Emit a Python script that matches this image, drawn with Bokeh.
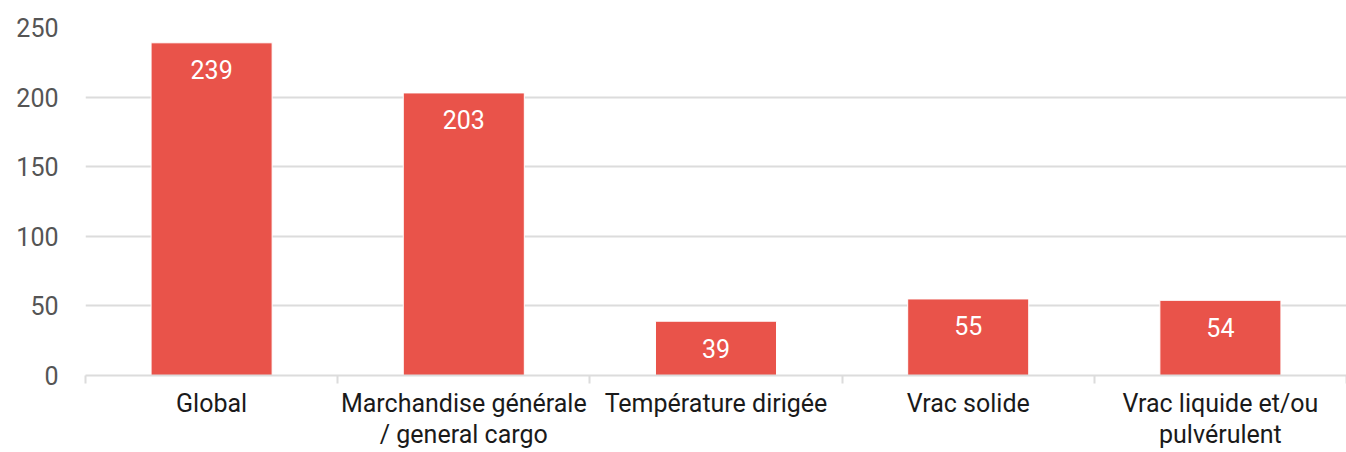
from bokeh.plotting import figure
from bokeh.models import ColumnDataSource, Range1d, FixedTicker
from bokeh.core.properties import value
from bokeh.embed import file_html
from bokeh.resources import INLINE

categories = ["Global", "Marchandise générale\n/ general cargo", "Température dirigée",
              "Vrac solide", "Vrac liquide et/ou\npulvérulent"]
values = [239, 203, 39, 55, 54]
y_ticks = [0, 50, 100, 150, 200, 250]

FONT = "Roboto"
BAR = "#E9534A"
GRID = "#dcdcdc"

n = len(categories)
xs = [i + 0.5 for i in range(n)]
src = ColumnDataSource(dict(x=xs, v=values, lab=[str(v) for v in values]))

p = figure(width=1346, height=452, output_backend="svg", toolbar_location=None,
           x_range=Range1d(0, n), y_range=Range1d(0, 250),
           min_border_left=85, min_border_top=27, min_border_right=0, min_border_bottom=77)
p.outline_line_color = None
p.xgrid.grid_line_color = None
p.ygrid.grid_line_color = GRID
p.ygrid.grid_line_width = 2
p.ygrid.ticker = FixedTicker(ticks=y_ticks)

p.vbar(x="x", top="v", width=0.48, source=src, fill_color=BAR,
       line_color="white", line_width=1)

p.text(x="x", y="v", text="lab", source=src, text_color="white",
       text_font=value(FONT), text_font_size="25px", text_align="center",
       text_baseline="middle", y_offset=27)

# x axis
p.xaxis.ticker = FixedTicker(ticks=xs, minor_ticks=list(range(n + 1)))
p.xaxis.major_label_overrides = {x: c for x, c in zip(xs, categories)}
p.xaxis.major_tick_line_color = None
p.xaxis.major_tick_out = 0
p.xaxis.major_tick_in = 0
p.xaxis.minor_tick_line_color = GRID
p.xaxis.minor_tick_line_width = 2
p.xaxis.minor_tick_out = 8
p.xaxis.minor_tick_in = 0
p.xaxis.axis_line_color = GRID
p.xaxis.axis_line_width = 2
p.xaxis.major_label_text_font = FONT
p.xaxis.major_label_text_font_size = "25px"
p.xaxis.major_label_text_color = "#1a1a1a"
p.xaxis.major_label_standoff = 5
p.xaxis.major_label_text_line_height = 1.09

# y axis
p.yaxis.ticker = FixedTicker(ticks=y_ticks)
p.yaxis.axis_line_color = None
p.yaxis.major_tick_line_color = None
p.yaxis.minor_tick_line_color = None
p.yaxis.major_tick_out = 0
p.yaxis.major_label_standoff = 27
p.yaxis.major_label_text_font = FONT
p.yaxis.major_label_text_font_size = "25px"
p.yaxis.major_label_text_color = "#555555"

open("out.html", "w").write(file_html(p, INLINE))
